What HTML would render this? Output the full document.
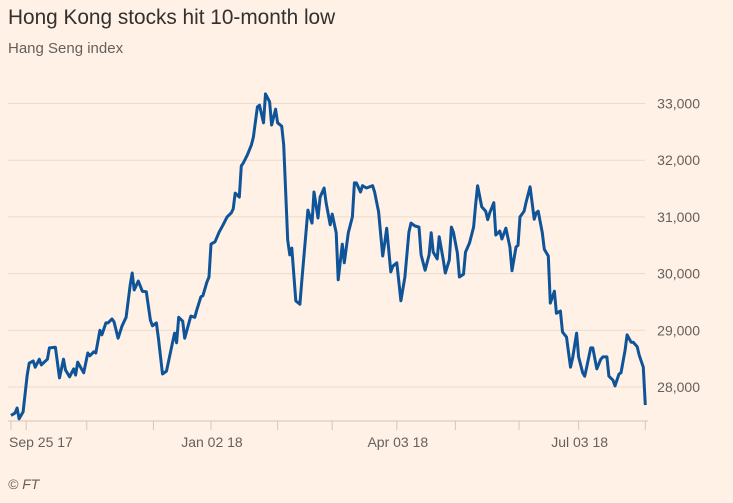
<!DOCTYPE html>
<html><head><meta charset="utf-8">
<style>
html,body{margin:0;padding:0;background:#fff1e5;}
svg{display:block;font-family:"Liberation Sans",sans-serif;}
</style></head>
<body>
<svg id="chart" width="733" height="503" viewBox="0 0 733 503">
<rect width="733" height="503" fill="#fff1e5"/>
<text x="8" y="24" font-size="20.8" fill="#33302e">Hong Kong stocks hit 10-month low</text>
<text x="8" y="53" font-size="15" fill="#66605c">Hang Seng index</text>
<g id="grid"></g>
<g id="xaxis"></g>
<g id="series"></g>
<text x="8" y="489" font-size="14" font-style="italic" fill="#66605c">© FT</text>
</svg>
<script>
const days = [0,2,3,4,6,8,9,11,12,14,15,18,19,22,24,26,27,29,31,32,33,36,38,39,41,42,44,45,47,48,50,51,53,55,57,59,60,61,63,65,67,69,70,72,73,75,77,80,81,82,83,85,86,89,91,92,94,95,97,98,99,101,103,105,107,109,110,111,113,114,115,117,119,120,122,123,125,126,128,129,131,132,134,135,137,138,139,141,143,144,147,149,150,152,153,155,156,158,159,161,162,164,165,167,169,170,171,173,174,176,179,180,182,184,185,186,188,189,191,193,195,197,198,200,202,203,205,207,208,209,211,212,214,215,217,218,219,221,222,224,225,227,229,230,231,233,235,236,237,239,240,242,243,245,247,248,250,251,252,254,255,257,259,260,261,263,264,266,267,269,270,272,273,275,277,278,280,281,283,284,285,287,288,290,292,293,295,296,298,299,301,302,304,305,307,308,310,311,313,314];
const values = [27500,27540,27630,27440,27560,28210,28420,28460,28350,28490,28390,28490,28690,28700,28160,28490,28300,28180,28320,28210,28440,28250,28600,28550,28620,28600,29000,28920,29130,29130,29200,29150,28860,29080,29230,29800,30010,29710,29870,29690,29680,29180,29080,29130,28850,28230,28280,28790,28950,28780,29230,29160,28860,29250,29230,29360,29590,29610,29850,29940,30520,30560,30730,30860,31000,31070,31140,31420,31350,31900,31950,32090,32270,32410,32940,32970,32660,33170,33030,32620,32900,32660,32600,32270,30590,30330,30450,29520,29460,29890,31120,30890,31440,30980,31350,31510,31250,30860,31050,30720,29890,30520,30190,30720,31000,31600,31600,31440,31550,31510,31550,31440,31090,30310,30540,30800,30030,30130,30190,29520,29940,30730,30890,30840,30820,30330,30060,30330,30720,30380,30260,30650,30240,30010,30240,30820,30730,30360,29940,29990,30380,30540,30820,31210,31550,31180,31100,30950,31070,31250,30680,30750,30610,30800,30470,30050,30470,30500,31000,31100,31260,31530,30960,31070,31100,30720,30430,30310,29480,29690,29300,29340,28970,28880,28350,28510,28950,28530,28250,28190,28350,28690,28690,28320,28490,28530,28530,28190,28120,28020,28230,28250,28650,28920,28790,28790,28710,28560,28350,27680];
const yTicks = [28000,29000,30000,31000,32000,33000];
const xTickDays = [0,7.5,37.5,70.5,99,132,159,191,220,251.5,281,314];
const xLabelDays = [0,99,191,281];
const xLabels = ["Sep 25 17","Jan 02 18","Apr 03 18","Jul 03 18"];

const NS="http://www.w3.org/2000/svg";
const x = d => 11 + d*2.02;
const y = v => 103.5 + (33000 - v)*0.0567;
function mk(tag, attrs, parent){const e=document.createElementNS(NS,tag);for(const k in attrs)e.setAttribute(k,attrs[k]);parent.appendChild(e);return e;}
const grid=document.getElementById('grid'), xa=document.getElementById('xaxis'), se=document.getElementById('series');
yTicks.forEach(v=>{
  const l=mk('line',{x1:8,x2:645,y1:y(v),y2:y(v),stroke:'#eadbcc','stroke-width':1},grid);
  
  
  const t=mk('text',{x:700,y:y(v)+5,'text-anchor':'end','font-size':14,fill:'#66605c'},grid);
  t.textContent=v.toLocaleString('en-US');
  
  
});
const base=mk('line',{x1:8,x2:648,y1:421,y2:421,stroke:'#d2c7bc','stroke-width':1},xa);


xTickDays.forEach(d=>{
  const l=mk('line',{x1:x(d),x2:x(d),y1:421,y2:430,stroke:'#d2c7bc','stroke-width':1},xa);
  
  
});
xLabelDays.forEach((d,i)=>{
  const t=mk('text',{x:i===0?x(d)-2:x(d)+1,y:447,'text-anchor':i===0?'start':'middle','font-size':14,fill:'#66605c'},xa);
  t.textContent=xLabels[i];
  
  
});
const n=Math.min(days.length,values.length);
const p=mk('path',{d:days.slice(0,n).map((d,i)=>(i?'L':'M')+x(d).toFixed(1)+' '+y(values[i]).toFixed(1)).join(''),fill:'none',stroke:'#0f5499','stroke-width':3,'stroke-linejoin':'round'},se);


</script>
</body></html>
